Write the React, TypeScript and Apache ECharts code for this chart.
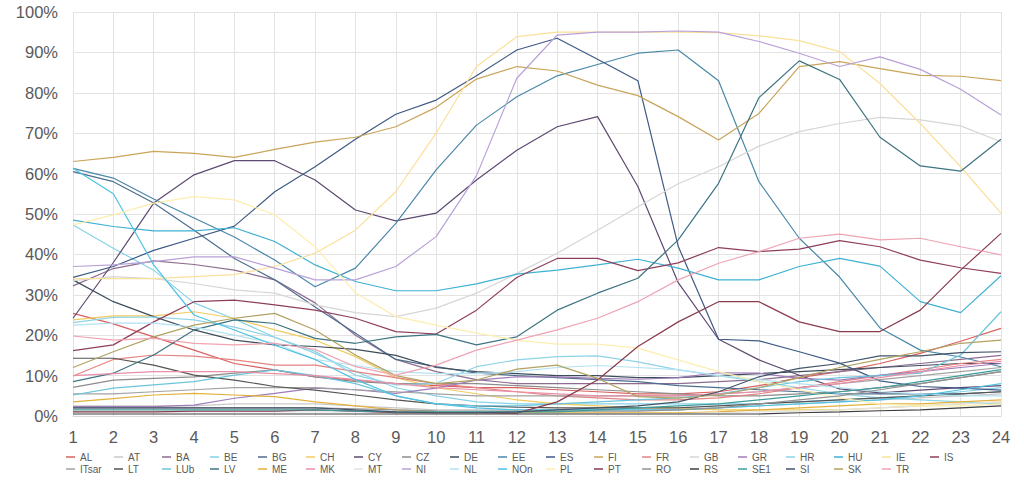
import React, { useEffect, useRef } from "react";
import * as echarts from "echarts";

const hours = Array.from({ length: 24 }, (_, i) => String(i + 1));

const AL = [25.4,22.8,19.6,16.3,13,11.4,9.7,8.9,8,7.5,7,7,6.5,6,5.5,5.5,6,7.5,9.5,11,13,15.5,18.5,21.7];
const AT = [2.5,2.5,2.5,2.5,3,3,3,2.5,2,1.5,1.5,1.5,1.5,1.5,1.5,1.5,2,2.5,3,3.5,4,4.5,5,5.5];
const BA = [32.2,36.5,38.4,37.5,36.1,33.7,28,20,14,11,9,8,8,8,8,8,8.5,9,10,11,12,13,14,15];
const BE = [47.3,41.5,36.1,28,24,19.5,15.5,11,7,5,3.5,3,3,3,3,3,3,3,3.5,4,4.5,5,6,7];
const BG = [60.5,58,52.7,46,39,33.7,27,20.5,14,12.2,10.6,10,9.5,9,8.5,7.5,7,6.5,6,5.5,5.5,5.5,5.5,6];
const CH = [23.8,24.8,24.8,25.8,24.2,21.3,18.8,14.7,9.5,7,5.5,4,3,2.5,2,2,1.5,1.5,1.5,1.5,2,2.5,3,3.5];
const CY = [24.2,38,52.7,59.7,63.2,63.2,58.4,51,48.3,50.2,58.4,65.8,71.6,74.1,56.8,33,19,13.9,10.1,6.7,5.7,6.4,7,7.5];
const CZ = [7.1,8.9,9.3,9.7,10.6,11.4,9.7,8.5,8,8,8,7.5,7,6.5,6,5.5,5,5,5.5,6,7,8,9.5,11];
const DE = [33.7,28.3,24.6,21.3,18.8,17.6,17.2,16.5,15,12,11,10.5,10,10,9.5,9.5,10,10.5,11,11.5,12,12.5,13,13];
const EE = [61.3,58.9,53.7,49,44.3,38.6,32,36.6,47.7,60.9,72,79,84.2,87,89.8,90.6,83,58,44,34.4,21.8,16.3,14.6,12.2];
const ES = [34.3,37,41,44,47,55.5,61.7,68.5,74.7,78.2,84.2,90.6,93.5,88.3,83,42,19,18.6,15.9,13.1,8.7,7.3,6.9,6.4];
const FI = [63,64,65.5,65,64,66,67.8,69,71.6,76.4,83.4,86.5,85.4,81.9,79.3,74.1,68.3,74.9,86.5,87.7,86,84.3,84.1,83];
const FR = [9.9,14,15.1,14.8,13.9,12.6,12.6,11,9.5,8,7,6,5,4.5,4,4,4.5,5.5,7,8.5,10,11.5,13,14];
const GB = [33.5,34.5,34,32.8,31.2,30.4,27.5,25.6,24.6,26.7,30.4,35.3,40.3,46,51.8,57.5,61.7,66.8,70.4,72.4,73.9,73.3,71.8,67.9];
const GR = [2.3,2.3,2.3,2.7,4.4,5.6,6.9,6.5,5.6,6.9,8.9,9.7,9.7,9.3,9.1,9.5,10.7,10.6,9.3,8.9,10.1,11,12,13];
const HR = [23.1,24.4,24.5,23.8,22,19.5,16,10.1,7.7,8.1,12.2,13.9,14.7,14.9,13.4,11.4,10,8.5,7,5.5,4.5,4,3.5,3];
const HU = [48.5,46.9,45.8,45.8,46.6,43.2,37.4,33.3,31,31,32.7,35.1,36.1,37.4,38.8,36.6,33.7,33.7,37,39,37.1,28.3,25.6,34.7];
const IE = [34,34,34,34.5,35,37,40.3,46,55.5,70,86.5,93.9,95,95,95,95,94.9,94.1,92.9,90.2,82.3,72.4,61.7,50.2];
const IS = [16.2,17.6,23.3,28.3,28.7,27.5,26.2,24.2,20.9,20.3,26.2,34.3,39,39,36,37.9,41.7,40.7,41.3,43.4,41.9,38.6,36.7,35.3];
const ITsar = [5.5,5.5,6,6.5,7,7,7,6.5,6,5.5,5,5,5,5,5,5,5.5,6,7,8,9,10,11,12];
const LT = [14.3,14.3,12.6,10.1,8.9,7.3,6.4,5.2,4,3,2.5,2.2,2,2,2,2,2.5,3,3.5,4,4.5,5,5.5,6];
const LUb = [5.2,6.9,7.7,8.5,10.1,11.4,10,8,5,3,2.5,2.5,3,3.5,4,4.5,5.5,7,8.5,9.5,10,10.6,15.1,25.8];
const LV = [8.5,10.6,15.1,21.3,23.8,22.9,19.2,18,19.6,20.2,17.6,19.6,26.2,30.4,34.1,43.6,57.6,78.8,87.9,83.3,69,61.9,60.6,68.5];
const ME = [3.5,4.3,5.2,5.6,5.2,4.8,3.5,2.5,1.5,1,0.8,0.8,0.8,0.8,0.8,0.8,1,1.5,2,2.5,3,3,3.5,4];
const MK = [10,10.5,11,11,11,10.5,10,9,8,7,6.5,6,5.5,5,5,5,5.5,6,7,8,9.5,11,12.5,13.5];
const MT = [1,1,1,1,1,1,1,1,0.8,0.6,0.6,0.6,0.6,0.6,0.6,0.6,0.8,1,1.2,1.5,2,2.5,3,3.5];
const NI = [37,37.4,38.2,39.4,39.4,36.6,33.7,33.7,37,44.4,59.5,83.6,94.3,95,95,95.3,95,92.7,89.8,86.5,88.9,85.8,80.9,74.5];
const NL = [22.5,23,23,22,20,18,14,12.5,11,10.5,10.5,11,12,12.5,12,11.5,10,9,8,7,6,5.5,5,5];
const NOn = [61.3,55,37.4,25,21.3,17.5,14,9,5,3,2,1.5,1.5,1.5,1.5,1.5,2,2.5,3,3.5,4,5,6.5,8];
const PL = [47.3,49.8,52.7,54.3,53.5,49.8,41.9,30.5,24.6,22.5,20.5,18.8,17.8,17.8,16.8,13.9,11,8.5,6.5,4.5,3,2.5,2.5,3];
const PT = [1,1,1,1.2,1.2,1.2,1.5,1.2,0.8,0.8,0.8,0.7,3.5,8.9,17.2,23.3,28.3,28.3,23.3,20.9,20.9,26.2,36.1,45.2];
const RO = [2,2,2,2,2,2,2,1.8,1.5,1.3,1.2,1.2,1.2,1.2,1.2,1.5,2,3,4,5,6.5,8,9.5,11];
const RS = [0.5,0.5,0.5,0.5,0.5,0.5,0.5,0.5,0.5,0.5,0.5,0.5,0.5,0.5,0.5,0.5,0.5,0.5,0.8,1,1.3,1.5,2,2.5];
const SE1 = [1.5,1.5,1.5,1.5,1.5,1.5,1.5,1.2,1,1,1,1,1,1.5,2,2.5,3,4,5,6,7,8.5,10,11.5];
const SI = [2,2,2,2,2,2,2,1.5,1,0.8,0.8,1,1.5,2,2.5,3.5,6,9.7,11.8,13,14.9,14.9,15.7,15.9];
const SK = [12,15.9,19.6,22.5,24.2,25.4,21.3,15.1,10,8,8.9,11.6,12.6,9.3,4.8,4.4,5.2,7,9.5,12,14,15.9,18,18.8];
const TR = [19.8,18.8,19.2,18,17.6,18,16.5,12.2,10.1,12.6,16.3,18.8,21.3,24.2,28.3,33.7,37.8,40.7,44,45,43.6,44,41.9,39.9];

const seriesDefs: { name: string; color: string; data: number[] }[] = [
  { name: "AL", color: "#d9605e", data: AL },
  { name: "AT", color: "#c9c9c9", data: AT },
  { name: "BA", color: "#8d6d8f", data: BA },
  { name: "BE", color: "#86d3e8", data: BE },
  { name: "BG", color: "#4d6e8e", data: BG },
  { name: "CH", color: "#f0cc60", data: CH },
  { name: "CY", color: "#5e4a72", data: CY },
  { name: "CZ", color: "#8c8c8c", data: CZ },
  { name: "DE", color: "#3e4d5c", data: DE },
  { name: "EE", color: "#4a88a8", data: EE },
  { name: "ES", color: "#3d5a85", data: ES },
  { name: "FI", color: "#c9a55a", data: FI },
  { name: "FR", color: "#e58383", data: FR },
  { name: "GB", color: "#d6d6d6", data: GB },
  { name: "GR", color: "#a07cb8", data: GR },
  { name: "HR", color: "#8fd3e6", data: HR },
  { name: "HU", color: "#3fb1d3", data: HU },
  { name: "IE", color: "#fbe09a", data: IE },
  { name: "IS", color: "#8e3e5c", data: IS },
  { name: "ITsar", color: "#a3a3a3", data: ITsar },
  { name: "LT", color: "#555555", data: LT },
  { name: "LUb", color: "#6bc4dc", data: LUb },
  { name: "LV", color: "#3d7482", data: LV },
  { name: "ME", color: "#e2b13c", data: ME },
  { name: "MK", color: "#e98fa8", data: MK },
  { name: "MT", color: "#e3e3e3", data: MT },
  { name: "NI", color: "#b9a1d8", data: NI },
  { name: "NL", color: "#b3e2f1", data: NL },
  { name: "NOn", color: "#4fc2e2", data: NOn },
  { name: "PL", color: "#fdeeb0", data: PL },
  { name: "PT", color: "#8a3b4c", data: PT },
  { name: "RO", color: "#929292", data: RO },
  { name: "RS", color: "#3f3f3f", data: RS },
  { name: "SE1", color: "#3c9c9c", data: SE1 },
  { name: "SI", color: "#425468", data: SI },
  { name: "SK", color: "#b2a262", data: SK },
  { name: "TR", color: "#f0a3b3", data: TR },
];

const FONT = "'Liberation Sans', Arial, sans-serif";

export default function App() {
  const ref = useRef<HTMLDivElement>(null);
  useEffect(() => {
    if (!ref.current) return;
    const chart = echarts.init(ref.current, undefined, { renderer: "svg" });
    const names = seriesDefs.map((s) => s.name);
    const legendCommon = {
      left: 66,
      width: 960,
      padding: 0,
      orient: "horizontal" as const,
      icon: "rect",
      itemWidth: 9,
      itemHeight: 1.5,
      itemGap: 4,
      textStyle: { fontSize: 10, color: "#595959", width: 30, lineHeight: 12, fontFamily: FONT },
    };
    chart.setOption({
      animation: false,
      textStyle: { fontFamily: FONT },
      grid: { left: 73, right: 23, top: 12, bottom: 69, containLabel: false },
      legend: [
        { ...legendCommon, top: 451, data: names.slice(0, 19) },
        { ...legendCommon, top: 463, data: names.slice(19) },
      ],
      xAxis: {
        type: "category",
        data: hours,
        boundaryGap: false,
        axisLine: { show: true, lineStyle: { color: "#d9d9d9" } },
        axisTick: { show: false },
        splitLine: { show: true, lineStyle: { color: "#e3e3e3", width: 1 } },
        axisLabel: { color: "#595959", fontSize: 16.5, margin: 12, fontFamily: FONT },
      },
      yAxis: {
        type: "value",
        min: 0,
        max: 100,
        interval: 10,
        axisLine: { show: false },
        axisTick: { show: false },
        splitLine: { show: true, lineStyle: { color: "#e3e3e3", width: 1 } },
        axisLabel: { color: "#595959", fontSize: 16.5, margin: 15, formatter: "{value}%", fontFamily: FONT },
      },
      series: seriesDefs.map((s) => ({
        name: s.name,
        type: "line",
        data: s.data,
        symbol: "none",
        showSymbol: false,
        lineStyle: { color: s.color, width: 1.2 },
        itemStyle: { color: s.color },
        emphasis: { disabled: true },
      })),
    });
    return () => chart.dispose();
  }, []);
  return (
    <div
      ref={ref}
      style={{ position: "fixed", left: 0, top: 0, width: 1024, height: 485, background: "#fff" }}
    />
  );
}
